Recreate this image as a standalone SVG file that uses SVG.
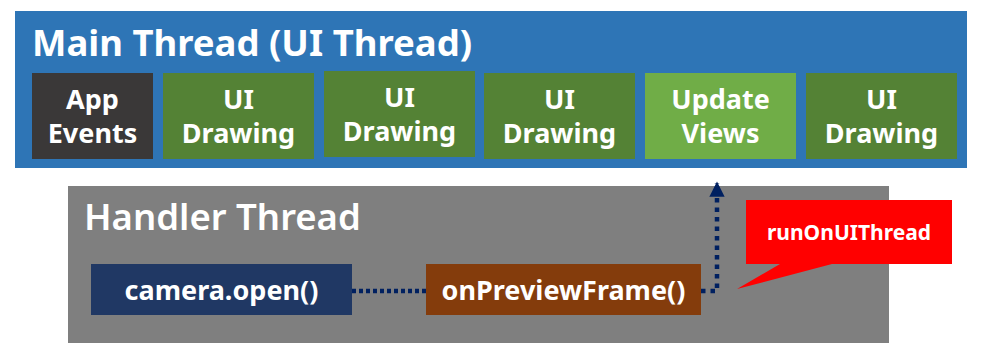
<svg xmlns="http://www.w3.org/2000/svg" width="981" height="363" viewBox="0 0 981 363">
<style>
text{font-family:"Noto Sans","Open Sans","DejaVu Sans",sans-serif;font-weight:bold;fill:#fff;}
.t{font-size:36.5px;}
.b{font-size:27px;text-anchor:middle;}
.c{font-size:21px;text-anchor:middle;}
.dot{fill:none;stroke:#002060;stroke-width:4.5;}
</style>
<defs>
<marker id="ah" viewBox="0 0 10 10" refX="9" refY="5" markerWidth="3.4" markerHeight="3.4" orient="auto" markerUnits="strokeWidth">
<path d="M0,0 L10,5 L0,10 z" fill="#002060"/>
</marker>
</defs>
<g id="main-thread">
<rect x="15" y="11" width="952" height="157" fill="#2E75B6"/>
<text class="t" x="32" y="56">Main Thread (UI Thread)</text>
</g>
<g id="app-events">
<rect x="32" y="73" width="121" height="86" fill="#3A3838"/>
<text class="b" x="92.5" y="109">App</text>
<text class="b" x="92.5" y="143">Events</text>
</g>
<g id="ui-drawing-1">
<rect x="163" y="73" width="151" height="86" fill="#548235"/>
<text class="b" x="238.5" y="109">UI</text>
<text class="b" x="238.5" y="143">Drawing</text>
</g>
<g id="ui-drawing-2">
<rect x="324" y="71" width="151" height="86" fill="#548235"/>
<text class="b" x="399.5" y="107">UI</text>
<text class="b" x="399.5" y="141">Drawing</text>
</g>
<g id="ui-drawing-3">
<rect x="484" y="73" width="151" height="86" fill="#548235"/>
<text class="b" x="559.5" y="109">UI</text>
<text class="b" x="559.5" y="143">Drawing</text>
</g>
<g id="update-views">
<rect x="645" y="73" width="151" height="86" fill="#70AD47"/>
<text class="b" x="720.5" y="109">Update</text>
<text class="b" x="720.5" y="143">Views</text>
</g>
<g id="ui-drawing-4">
<rect x="806" y="73" width="151" height="86" fill="#548235"/>
<text class="b" x="881.5" y="109">UI</text>
<text class="b" x="881.5" y="143">Drawing</text>
</g>
<g id="handler-thread">
<rect x="68" y="186" width="821" height="157" fill="#7F7F7F"/>
<text class="t" x="84" y="230" style="font-weight:600">Handler Thread</text>
</g>
<g id="camera-open">
<rect x="91" y="264" width="261" height="51" fill="#203864"/>
<text class="b" x="221.5" y="300">camera.open()</text>
</g>
<g id="on-preview-frame">
<rect x="426" y="264" width="275" height="51" fill="#843C0C"/>
<text class="b" x="563.5" y="300">onPreviewFrame()</text>
</g>
<g id="connectors">
<line class="dot" x1="352" y1="291" x2="426" y2="291" stroke-dasharray="4 3"/>
<path class="dot" d="M701,291 H717 V183" stroke-dasharray="4.5 5" marker-end="url(#ah)"/>
</g>
<g id="callout">
<path d="M746,200 H952 V264 H832 L737,289 L780,264 H746 Z" fill="#FF0000"/>
<text class="c" x="849" y="240">runOnUIThread</text>
</g>
</svg>
